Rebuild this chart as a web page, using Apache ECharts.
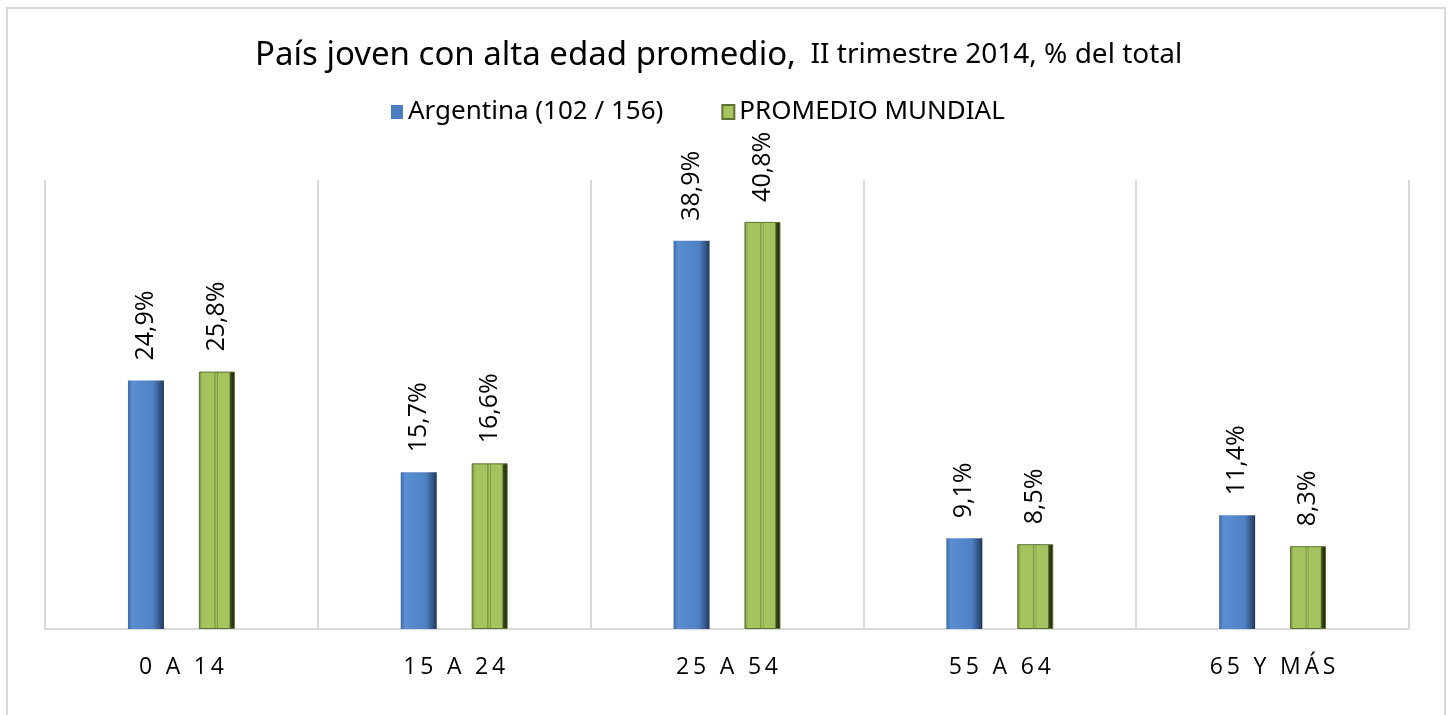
<!DOCTYPE html>
<html style="height:100%;width:100%">
<head>
	<meta charset="UTF-8">
	<title>Edad promedio</title>
	<script src="https://cdn.jsdelivr.net/npm/echarts@6/dist/echarts.min.js"></script>
	<style type="text/css">
		body{ margin:0px; background-color:#FFFFFF; }
		#frame{ position:absolute; left:6px; top:7px; width:1440px; height:720px; border:2px solid #d9d9d9; box-sizing:border-box; }
		#container{ position:absolute; left:0; top:0; width:1454px; height:715px; }
	</style>
</head>
<body>
<div id="frame"></div>
<div id="container"></div>

<script type="text/javascript">

var categories = ['0 A 14', '15 A 24', '25 A 54', '55 A 64', '65 Y MÁS'];
var seriesNames = ['Argentina (102 / 156)', 'PROMEDIO MUNDIAL'];
var argentina = [24.9, 15.7, 38.9, 9.1, 11.4];
var mundial = [25.8, 16.6, 40.8, 8.5, 8.3];

var fontName = "'Noto Sans', sans-serif";

var blueFill = new echarts.graphic.LinearGradient(0, 0, 1, 0, [
	{ offset: 0, color: '#3f6ba6' },
	{ offset: 0.12, color: '#5a8ed2' },
	{ offset: 0.7, color: '#4f82c4' },
	{ offset: 0.88, color: '#34598a' },
	{ offset: 1, color: '#1f3656' }
]);
var greenFill = new echarts.graphic.LinearGradient(0, 0, 1, 0, [
	{ offset: 0, color: '#6f8a3a' },
	{ offset: 0.1, color: '#a5c45f' },
	{ offset: 0.42, color: '#a5c45f' },
	{ offset: 0.44, color: '#7f9a48' },
	{ offset: 0.5, color: '#a5c45f' },
	{ offset: 0.52, color: '#7f9a48' },
	{ offset: 0.54, color: '#a5c45f' },
	{ offset: 0.84, color: '#a5c45f' },
	{ offset: 0.88, color: '#3d4c1e' },
	{ offset: 1, color: '#141a08' }
]);

// spread letters like the original axis labels
var spaced = function (s) {
	return s.split('').join('\u2009');
};

var pct = function (p) {
	return p.value.toFixed(1).replace('.', ',') + '%';
};

var dom = document.getElementById("container");
var myChart = echarts.init(dom);
var option = {
	animation: false,
	textStyle: { fontFamily: fontName },
	title: {
		text: '{a|País joven con alta edad promedio,}{b|  II trimestre 2014, % del total}',
		left: 250,
		top: 34,
		textStyle: {
			fontWeight: 'normal',
			rich: {
				a: { fontSize: 33, color: '#000', fontWeight: 'normal', fontFamily: fontName },
				b: { fontSize: 28, color: '#000', fontWeight: 'normal', fontFamily: fontName }
			}
		}
	},
	legend: {
		top: 94,
		left: 386,
		itemWidth: 12,
		itemHeight: 14,
		itemGap: 58,
		icon: 'rect',
		textStyle: { fontSize: 26, color: '#000', fontFamily: fontName },
		data: [
			{ name: seriesNames[0], itemStyle: { color: '#4a7cbf' } },
			{ name: seriesNames[1], itemStyle: { color: '#a5c45f' } }
		]
	},
	grid: { left: 45, right: 45, top: 180, bottom: 86 },
	xAxis: {
		type: 'category',
		data: categories,
		axisTick: { show: false },
		axisLine: { lineStyle: { color: '#d9d9d9', width: 2 } },
		splitLine: { show: true, lineStyle: { color: '#d9d9d9', width: 2 } },
		axisLabel: {
			margin: 27,
			fontSize: 23,
			color: '#000',
			fontFamily: "'Open Sans', sans-serif",
			formatter: function (v) { return spaced(v); }
		}
	},
	yAxis: {
		type: 'value',
		min: 0,
		max: 45,
		show: false,
		splitLine: { show: false }
	},
	series: [{
		name: seriesNames[0],
		type: 'bar',
		data: argentina,
		barWidth: 36,
		barGap: '97%',
		itemStyle: { color: blueFill },
		label: {
			show: true, position: 'top', rotate: 90, align: 'left', verticalAlign: 'middle',
			distance: 20, fontSize: 25, color: '#000', fontFamily: "'Open Sans', sans-serif",
			formatter: pct
		}
	}, {
		name: seriesNames[1],
		type: 'bar',
		data: mundial,
		barWidth: 36,
		itemStyle: { color: greenFill, borderColor: '#5c7430', borderWidth: 1 },
		label: {
			show: true, position: 'top', rotate: 90, align: 'left', verticalAlign: 'middle',
			distance: 20, fontSize: 25, color: '#000', fontFamily: "'Open Sans', sans-serif",
			formatter: pct
		}
	}]
};

myChart.setOption(option, true);

window.onresize = function () {
	myChart.resize();
};

</script>
</body>
</html>
